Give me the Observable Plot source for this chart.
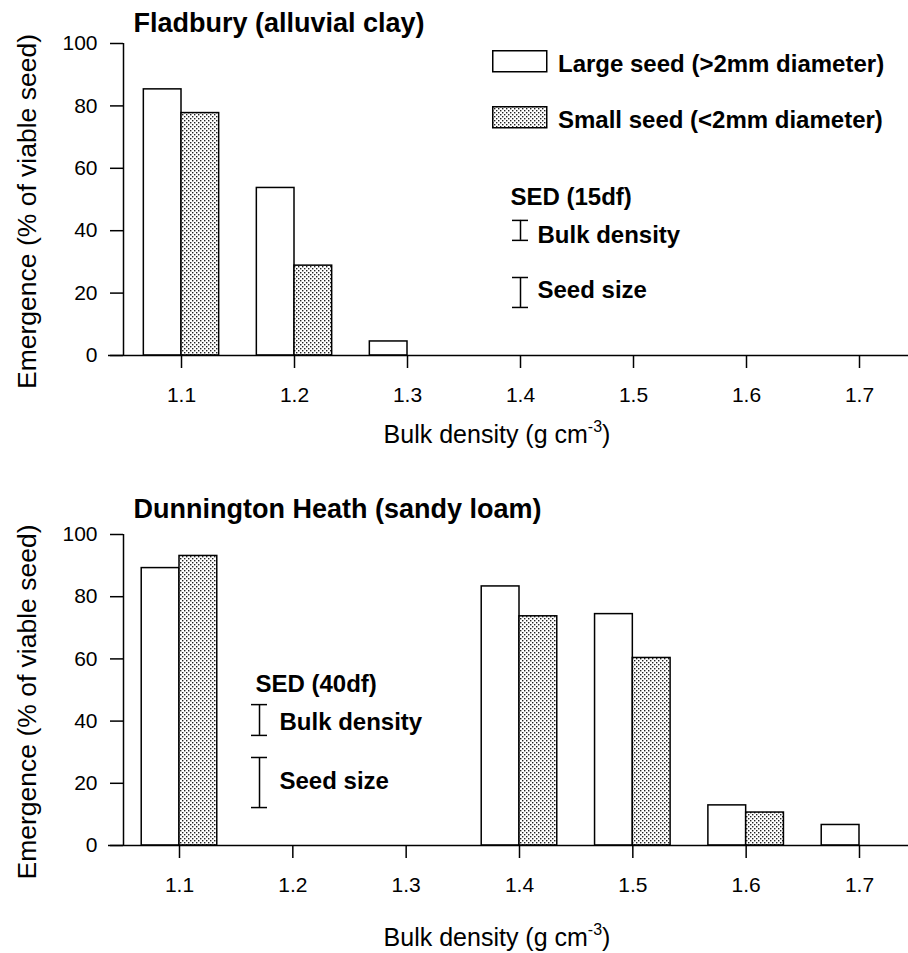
<!DOCTYPE html>
<html>
<head>
<meta charset="utf-8">
<script src="https://cdn.jsdelivr.net/npm/d3@7"></script>
<script src="https://cdn.jsdelivr.net/npm/@observablehq/plot@0.6"></script>
<style>
  body { margin: 0; background: #fff; }
  #fig { position: relative; width: 908px; height: 953px; font-family: "Liberation Sans", Arial, sans-serif; }
  #fig > svg { display: block; }
  #legend { position: absolute; left: 0; top: 0; pointer-events: none; }
</style>
</head>
<body>
<!-- shared fill for the small-seed bars -->
<svg width="0" height="0" style="position:absolute">
  <defs>
    <pattern id="stipple" width="4" height="4" patternUnits="userSpaceOnUse">
      <rect width="4" height="4" fill="#fff"/>
      <rect x="0" y="0" width="1.4" height="1.4" fill="#222"/>
      <rect x="2" y="2" width="1.4" height="1.4" fill="#222"/>
    </pattern>
  </defs>
</svg>
<div id="fig"></div>
<script>
// Bulk density treatments (g cm-3)
const densities = [1.1, 1.2, 1.3, 1.4, 1.5, 1.6, 1.7];
const seedSizes = ["Large seed (>2mm diameter)", "Small seed (<2mm diameter)"];
const yTicks = [0, 20, 40, 60, 80, 100];

// Emergence (% of viable seed); null = density not tested
const fladburyLarge = [85.3, 53.7, 4.5, 0, 0, 0, 0];
const fladburySmall = [77.7, 28.8, 0, 0, 0, 0, 0];
const dunningtonLarge = [89.2, null, null, 83.3, 74.4, 12.9, 6.6];
const dunningtonSmall = [93.1, null, null, 73.7, 60.3, 10.6, 0];

// Standard errors of the difference
const sedTerms = ["Bulk density", "Seed size"];
const fladburySed = [6.4, 9.6];
const dunningtonSed = [9.9, 16.1];

const xLabel = "Bulk density (g cm-3)";
const yLabel = "Emergence (% of viable seed)";

const W = 908, ML = 123;
const barWidth = 0.1 / 3;

function panel(cfg) {
  const [x0, x1] = cfg.xDomain;
  const pxPerUnit = (W - ML) / (x1 - x0);
  const bars = densities.map((d, i) => ({density: d, large: cfg.large[i], small: cfg.small[i]}));
  const largeBars = bars.filter(b => b.large != null && b.large > 0);
  const smallBars = bars.filter(b => b.small != null && b.small > 0);
  const sed = sedTerms.map((term, i) => ({
    term, value: cfg.sed[i], centre: cfg.sedCentres[i], labelY: cfg.sedLabelY[i]
  }));
  const cap = 8 / pxPerUnit;
  const ends = sed.flatMap(s => [s.centre - s.value / 2, s.centre + s.value / 2]);

  const svg = Plot.plot({
    width: W,
    height: cfg.height,
    marginLeft: ML,
    marginRight: 0,
    marginTop: cfg.marginTop,
    marginBottom: cfg.marginBottom,
    x: {domain: cfg.xDomain},
    y: {domain: [0, 100]},
    style: {fontFamily: "'Liberation Sans', Arial, sans-serif", fontSize: "21px", color: "#000", background: "#fff", overflow: "visible"},
    marks: [
      Plot.rect(largeBars, {x1: b => b.density - barWidth, x2: b => b.density, y1: () => 0, y2: b => b.large,
        fill: "#fff", stroke: "#000", strokeWidth: 1.5}),
      Plot.rect(smallBars, {x1: b => b.density, x2: b => b.density + barWidth, y1: () => 0, y2: b => b.small,
        fill: "url(#stipple)", stroke: "#000", strokeWidth: 1.5}),
      // axis lines
      Plot.ruleY([0], {x1: () => x0 - 15 / pxPerUnit, x2: () => x1, stroke: "#000", strokeWidth: 1.5}),
      Plot.ruleX([x0], {y1: () => 0, y2: () => 100, stroke: "#000", strokeWidth: 1.5}),
      Plot.axisX({ticks: densities, tickFormat: d => d.toFixed(1), tickSize: 13, tickPadding: 19,
        fontSize: 21, strokeWidth: 1.5, label: null}),
      Plot.axisY({ticks: yTicks, tickSize: 13, tickPadding: 13, fontSize: 21, strokeWidth: 1.5, label: null}),
      // SED bars
      Plot.ruleX(sed, {x: () => cfg.sedX, y1: s => s.centre - s.value / 2, y2: s => s.centre + s.value / 2,
        stroke: "#000", strokeWidth: 1.5}),
      Plot.ruleY(ends, {y: d => d, x1: () => cfg.sedX - cap, x2: () => cfg.sedX + cap, stroke: "#000", strokeWidth: 1.5}),
      Plot.text([cfg.sedTitle], {text: d => d, x: () => cfg.sedX, y: () => cfg.sedTitleY, dx: cfg.sedTitleDx,
        textAnchor: "start", lineAnchor: "bottom", fontSize: 24, fontWeight: "bold"}),
      Plot.text(sed, {text: "term", x: () => cfg.sedX, y: "labelY", dx: cfg.sedLabelDx,
        textAnchor: "start", lineAnchor: "bottom", fontSize: 24, fontWeight: "bold"}),
      // titles and axis labels
      Plot.text([cfg.title], {text: d => d, frameAnchor: "top-left", dx: 10, dy: cfg.titleDy,
        textAnchor: "start", lineAnchor: "bottom", fontSize: 27, fontWeight: "bold"}),
      Plot.text([yLabel], {text: d => d, frameAnchor: "left", rotate: -90, dx: -88, dy: 12,
        textAnchor: "middle", lineAnchor: "bottom", fontSize: 26.5}),
      Plot.text([xLabel], {text: d => d, frameAnchor: "bottom", dx: -19, dy: cfg.xLabelDy,
        textAnchor: "middle", lineAnchor: "bottom", fontSize: 25})
    ]
  });

  // write the unit exponent as a superscript
  d3.select(svg).selectAll("text").filter(function () { return this.textContent === xLabel; })
    .each(function () {
      const t = d3.select(this);
      t.text(null);
      t.append("tspan").text("Bulk density (g cm");
      t.append("tspan").attr("dy", -11).attr("font-size", 16).text("-3");
      t.append("tspan").attr("dy", 11).text(")");
    });
  return svg;
}

const fig = document.getElementById("fig");

fig.appendChild(panel({
  title: "Fladbury (alluvial clay)",
  large: fladburyLarge, small: fladburySmall, sed: fladburySed,
  sedTitle: "SED (15df)",
  height: 470, marginTop: 43, marginBottom: 115,
  xDomain: [1.04867, 1.74336],
  titleDy: -12, xLabelDy: 87,
  sedX: 1.4, sedCentres: [40.1, 20.2], sedLabelY: [35.9, 18.3],
  sedTitleY: 48.1, sedTitleDx: -10, sedLabelDx: 17
}));

fig.appendChild(panel({
  title: "Dunnington Heath (sandy loam)",
  large: dunningtonLarge, small: dunningtonSmall, sed: dunningtonSed,
  sedTitle: "SED (40df)",
  height: 483, marginTop: 64, marginBottom: 108,
  xDomain: [1.05059, 1.74324],
  titleDy: -17, xLabelDy: 100,
  sedX: 1.1706, sedCentres: [40.35, 20.25], sedLabelY: [37.0, 18.3],
  sedTitleY: 49.2, sedTitleDx: -4, sedLabelDx: 20
}));

// legend for the two seed sizes, set inside the upper panel
const legend = d3.select(fig).append("svg")
  .attr("id", "legend").attr("width", W).attr("height", 470)
  .style("font-family", "'Liberation Sans', Arial, sans-serif");
const fills = ["#fff", "url(#stipple)"];
const rowsY = [50, 106];
const item = legend.selectAll("g").data(seedSizes).join("g")
  .attr("transform", (d, i) => `translate(492,${rowsY[i]})`);
item.append("rect").attr("x", 0.75).attr("y", 0.75).attr("width", 54).attr("height", 21)
  .attr("fill", (d, i) => fills[i]).attr("stroke", "#000").attr("stroke-width", 1.5);
item.append("text").attr("x", 66).attr("y", 22).attr("font-size", 24).attr("font-weight", "bold")
  .text(d => d);
</script>
</body>
</html>
